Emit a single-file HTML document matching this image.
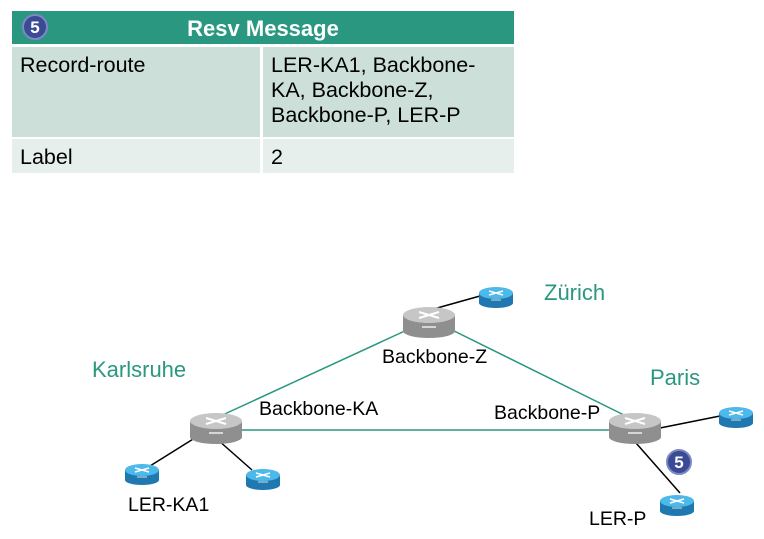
<!DOCTYPE html>
<html><head><meta charset="utf-8"><style>
body{margin:0;width:764px;height:539px;background:#fff;font-family:"Liberation Sans",Arial,sans-serif;overflow:hidden;position:relative}
.t{position:absolute;left:12px;top:11px;width:502px}
.h{position:absolute;left:0;top:0;width:502px;height:33px;background:#2a9780;color:#fff;font-weight:bold;font-size:22px;text-align:center;line-height:36px}
.c{position:absolute;font-size:21.5px;color:#000;line-height:25px;padding:6px 0 0 8px;box-sizing:border-box;white-space:nowrap}
.num{position:absolute;width:26px;height:26px;border-radius:50%;background:#3b4a94;border:2px solid #7d89c4;color:#fff;font-weight:bold;font-size:17px;text-align:center;line-height:24px;box-sizing:border-box}
.lbl{position:absolute;font-size:19.5px;color:#000}
.g{position:absolute;font-size:22px;color:#2a9780}
</style></head><body>
<div class="t">
<div class="h">Resv Message</div>
<div class="num" style="left:10px;top:3px;">5</div>
<div class="c" style="left:0;top:36px;width:248px;height:90px;background:#cddfd9">Record-route</div>
<div class="c" style="left:251px;top:36px;width:251px;height:90px;background:#cddfd9">LER-KA1, Backbone-<br>KA, Backbone-Z,<br>Backbone-P, LER-P</div>
<div class="c" style="left:0;top:128px;width:248px;height:34px;background:#e6efec">Label</div>
<div class="c" style="left:251px;top:128px;width:251px;height:34px;background:#e6efec">2</div>
</div>
<svg width="764" height="539" style="position:absolute;left:0;top:0">
<defs>
<g id="big"><rect x="-26" y="-6" width="52" height="16" fill="#8f8f8f"/><ellipse cx="0" cy="10" rx="26" ry="7" fill="#8f8f8f"/><ellipse cx="0" cy="-6" rx="26" ry="8" fill="#c6c6c6"/><path d="M-10,-9 L10,-3 M-10,-3 L10,-9" stroke="#fff" stroke-width="2"/><path d="M-7,6 h14" stroke="#eee" stroke-width="1.5"/></g>
<g id="sm"><rect x="-17" y="-3" width="34" height="10" fill="#1f78b0"/><ellipse cx="0" cy="7" rx="17" ry="5" fill="#1f78b0"/><ellipse cx="0" cy="-3" rx="17" ry="6" fill="#4db8ea"/><path d="M-7,-5 L7,-1 M-7,-1 L7,-5" stroke="#fff" stroke-width="1.5"/><path d="M-5,4 h10" stroke="#ddd" stroke-width="1"/></g>
</defs>
<g stroke="#2a9780" stroke-width="1.5"><line x1="216" y1="418" x2="420" y2="324"/><line x1="440" y1="324" x2="630" y2="418"/><line x1="240" y1="430" x2="610" y2="430"/></g>
<g stroke="#000" stroke-width="1.5"><line x1="198" y1="436" x2="150" y2="466"/><line x1="218" y1="440" x2="252" y2="470"/><line x1="430" y1="310" x2="480" y2="296"/><line x1="660" y1="428" x2="720" y2="416"/><line x1="636" y1="443" x2="680" y2="493"/></g>
<use href="#big" x="216" y="427"/><use href="#big" x="429" y="321"/><use href="#big" x="635" y="427"/>
<use href="#sm" x="142" y="473"/><use href="#sm" x="263" y="478"/><use href="#sm" x="496" y="296"/><use href="#sm" x="736" y="416"/><use href="#sm" x="677" y="504"/>
</svg>
<div class="num" style="left:666px;top:449px;">5</div>
<div class="g" style="left:544px;top:280px">Zürich</div>
<div class="g" style="left:92px;top:357px">Karlsruhe</div>
<div class="g" style="left:650px;top:365px">Paris</div>
<div class="lbl" style="left:382px;top:346px">Backbone-Z</div>
<div class="lbl" style="left:259px;top:398px">Backbone-KA</div>
<div class="lbl" style="left:494px;top:402px">Backbone-P</div>
<div class="lbl" style="left:128px;top:494px">LER-KA1</div>
<div class="lbl" style="left:589px;top:508px">LER-P</div>
</body></html>
